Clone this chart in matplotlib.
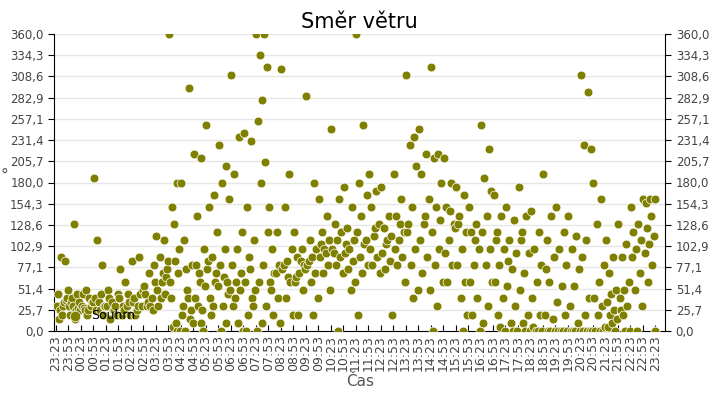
import matplotlib
matplotlib.use("Agg")
import matplotlib.pyplot as plt
import numpy as np

bins = [
[30,35,25,40,20,45,85,90,50,30,15,38],
[30,25,40,35,130,20,45,30,25,15,35,28],
[30,40,25,35,20,45,30,50,35,25,28],
[185,80,110,30,25,40,20,35,30,45,25],
[30,25,40,20,35,50,30,15,45,25],
[40,30,20,35,25,75,45,30,20,60],
[85,90,40,30,25,35,45,20,50,30],
[55,40,30,80,70,45,25,35,60,30],
[115,110,90,75,60,50,45,40,85,70,30,65],
[360,180,150,100,85,60,0,5,0,10,40,70,130],
[180,295,110,80,50,20,15,0,10,40,30,25,75],
[215,210,140,100,60,40,25,30,55,10,80,0,70],
[250,165,150,120,90,75,60,40,55,30,85,70,20],
[225,200,180,160,100,80,60,30,50,10,0,45,65],
[310,235,190,120,100,80,50,40,0,10,30,70,60],
[240,230,150,110,90,60,40,20,50,75,0,30],
[360,360,335,320,280,255,205,180,120,80,60,30,10,0],
[150,120,100,80,70,60,40,20,10,70,50],
[318,190,150,100,85,75,60,40,20,65,80],
[120,100,90,80,70,60,50,20,75,85,65],
[285,180,110,100,90,80,70,60,40,20,85],
[160,140,120,110,100,90,80,70,50,95,105],
[245,160,130,120,110,100,90,80,70,0,95],
[175,150,125,110,100,95,85,75,60,50,105],
[360,250,180,165,140,120,105,90,80,70,20,110],
[190,170,150,130,115,100,90,80,70,125],
[175,140,125,115,105,95,85,75,20,110],
[190,160,140,120,110,100,90,80,60,130],
[310,235,225,200,150,120,100,80,50,40,130],
[245,215,190,160,130,110,90,70,50,140],
[320,215,210,180,150,120,100,80,60,30,0,135],
[210,180,150,130,110,95,80,60,125,145],
[175,165,140,120,100,80,60,40,20,0,130],
[150,130,120,100,80,60,40,20,0,110],
[250,220,185,170,140,120,100,80,60,30,10],
[165,140,120,100,80,60,40,20,0,5,110],
[150,135,110,95,75,55,30,10,0,0,85],
[175,140,120,95,70,50,20,10,0,0,110],
[145,120,100,80,60,40,20,0,0,0,5],
[190,140,110,90,60,20,15,0,0,0,75],
[150,120,100,80,55,35,20,0,0,0,0],
[140,115,100,75,55,30,10,0,0,0,0],
[310,290,225,220,110,90,40,20,0,0,0,0],
[180,160,130,80,60,40,30,20,5,0,0,0],
[110,90,70,50,45,35,25,20,15,10,5,0],
[130,105,90,60,50,40,30,20,0,0,25],
[150,130,120,110,100,90,70,50,30,0],
[160,140,125,115,105,95,80,60,0,160,155],
]
end_values = [160, 0]
tick_labels = ["23:23"] + [f"{(23*60+53+30*i)//60%24:02d}:{(23*60+53+30*i)%60:02d}" for i in range(47)] + ["23:23"]
y_ticks = [0.0,25.7,51.4,77.1,102.9,128.6,154.3,180.0,205.7,231.4,257.1,282.9,308.6,334.3,360.0]

xs, ys = [], []
for i, b in enumerate(bins):
    n = len(b)
    order = sorted(range(n), key=lambda k: (k*0.618034) % 1)
    for j, k in enumerate(order):
        xs.append(i*0.5 + 0.5*(j+0.5)/n)
        ys.append(b[k])
for v in end_values:
    xs.append(24.0); ys.append(v)

fig = plt.figure(figsize=(7.2,4), dpi=100)
ax = fig.add_axes([0.075,0.1725,0.849,0.7425])
col = "#808000"
ax.scatter(xs, ys, s=40, c=col, edgecolors="white", linewidths=0.5, zorder=3, label="Souhrn")
ax.set_xlim(-0.08, 24.4)
ax.set_ylim(0, 360)
ax.set_yticks(y_ticks)
ax.set_yticklabels([f"{v:.1f}".replace(".", ",") for v in y_ticks])
ax.set_xticks(np.arange(49)*0.5)
ax.set_xticklabels(tick_labels, rotation=90, fontsize=9, color="#444444")
ax.tick_params(axis="x", direction="in", length=4, pad=3)
ax.tick_params(axis="y", direction="out", length=4, labelsize=8.5, labelcolor="#444444",
               right=True, labelright=True)
ax.grid(axis="y", color="#e6e6e6", linewidth=1)
ax.set_axisbelow(True)
ax.spines["top"].set_visible(False)
ax.set_title("Směr větru", fontsize=15, pad=4)
ax.set_xlabel("Čas", fontsize=11, color="#555555", labelpad=2)
ax.set_ylabel("°", fontsize=11, color="#555555", rotation=0, labelpad=4)
ax.legend(loc="lower left", frameon=False, fontsize=9, markerscale=1.2, handletextpad=0.3,
          bbox_to_anchor=(0.0, 0.0), borderaxespad=0.3)
fig.savefig("out.png", dpi=100)
